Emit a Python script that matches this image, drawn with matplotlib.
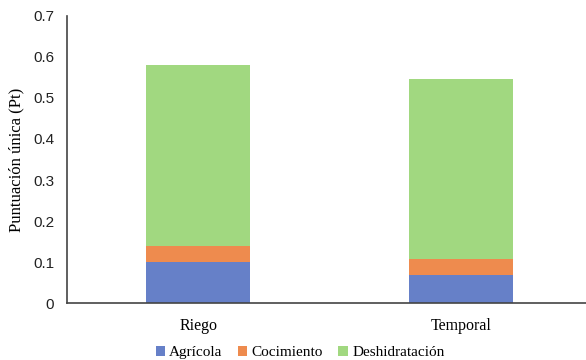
import numpy as np
import matplotlib.pyplot as plt

# datos
sistemas = ['Riego', 'Temporal']
agricola = [0.100, 0.068]
cocimiento = [0.040, 0.039]
deshidratacion = [0.440, 0.440]

colores = ['#6680C8', '#EE8B4E', '#A1D880']
etapas = ['Agrícola', 'Cocimiento', 'Deshidratación']

fig = plt.figure(figsize=(5.86, 3.6), dpi=100)
ax = fig.add_axes([0.114, 0.158, 0.886, 0.798])

x = np.arange(len(sistemas))
base = np.zeros(len(sistemas))
for vals, c, nom in zip([agricola, cocimiento, deshidratacion], colores, etapas):
    ax.bar(x, vals, width=0.396, bottom=base, color=c, label=nom)
    base = base + np.array(vals)

ax.set_xlim(-0.5, 1.477)
ax.set_ylim(0, 0.7)
ax.set_yticks([0, 0.1, 0.2, 0.3, 0.4, 0.5, 0.6, 0.7])
ax.set_yticklabels(['0', '0.1', '0.2', '0.3', '0.4', '0.5', '0.6', '0.7'],
                   family='Liberation Sans', fontsize=11, color='#222222')
ax.set_xticks(x)
ax.set_xticklabels(sistemas, family='Liberation Serif', fontsize=11.5)
ax.tick_params(axis='both', length=0, pad=9)
ax.tick_params(axis='x', pad=11)

for s in ['top', 'right']:
    ax.spines[s].set_visible(False)
for s in ['left', 'bottom']:
    ax.spines[s].set_color('#444444')
    ax.spines[s].set_linewidth(1.2)

ax.set_ylabel('Puntuación única (Pt)', family='Liberation Serif', fontsize=12, labelpad=6)

fig.legend(*ax.get_legend_handles_labels(), loc='center', bbox_to_anchor=(0.512, 0.02),
           ncol=3, frameon=False, prop={'family': 'Liberation Serif', 'size': 11},
           handlelength=0.6, handleheight=0.6, handletextpad=0.3, columnspacing=1.0,
           borderpad=0)

fig.savefig('out.png', dpi=100)
